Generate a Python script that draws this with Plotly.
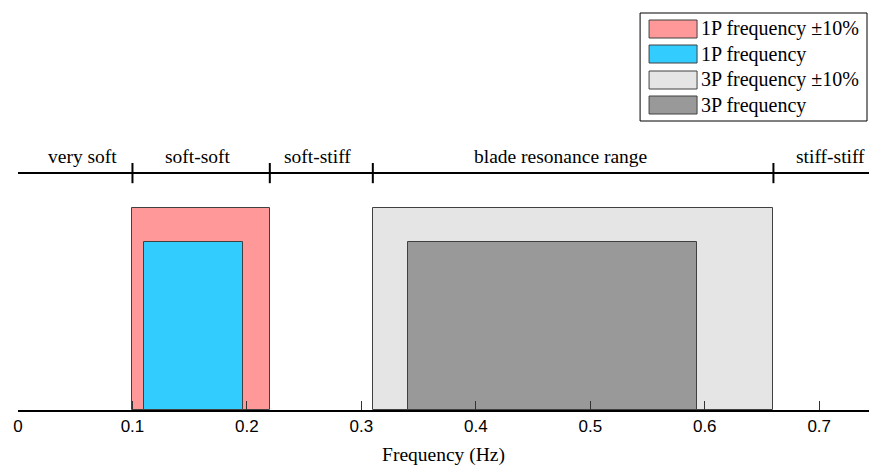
import plotly.graph_objects as go

# ---- data ----
band_names = ["1P frequency \u00b110%", "1P frequency", "3P frequency \u00b110%", "3P frequency"]
band_lo = [0.10, 0.11, 0.31, 0.341]
band_hi = [0.22, 0.197, 0.66, 0.593]
band_height = [1.0, 0.832, 1.0, 0.832]
band_colors = ["#FF9999", "#33CCFF", "#E5E5E5", "#999999"]

region_bounds = [0.10, 0.22, 0.31, 0.66]
region_labels = ["very soft", "soft-soft", "soft-stiff", "blade resonance range", "stiff-stiff"]
region_label_x = [0.056, 0.157, 0.262, 0.474, 0.71]

xtick_vals = [0, 0.1, 0.2, 0.3, 0.4, 0.5, 0.6, 0.7]
xtick_text = ["0", "0.1", "0.2", "0.3", "0.4", "0.5", "0.6", "0.7"]

X_MAX = 0.7435
Y_MAX = 2.03
LINE_Y = 1.173
TICK_HALF = 0.05
LABEL_Y = 1.256

SERIF = "Liberation Serif, Times New Roman, serif"
SANS = "Liberation Sans, Arial, sans-serif"

fig = go.Figure()

for name, lo, hi, h, c in zip(band_names, band_lo, band_hi, band_height, band_colors):
    fig.add_trace(go.Bar(
        x=[(lo + hi) / 2], y=[h], width=[hi - lo], base=0,
        name=name, marker=dict(color=c, line=dict(color="#404040", width=1)),
        showlegend=False, hoverinfo="name",
    ))

# classification line
fig.add_trace(go.Scatter(x=[0, X_MAX], y=[LINE_Y, LINE_Y], mode="lines",
                         line=dict(color="black", width=2), showlegend=False,
                         hoverinfo="skip", cliponaxis=False))
tx, ty = [], []
for b in region_bounds:
    tx += [b, b, None]
    ty += [LINE_Y - TICK_HALF, LINE_Y + TICK_HALF, None]
fig.add_trace(go.Scatter(x=tx, y=ty, mode="lines", line=dict(color="black", width=2),
                         showlegend=False, hoverinfo="skip", cliponaxis=False))

for lab, lx in zip(region_labels, region_label_x):
    fig.add_annotation(x=lx, y=LABEL_Y, xref="x", yref="y", text=lab, showarrow=False,
                       font=dict(family=SERIF, size=19.5, color="black"),
                       xanchor="center", yanchor="middle")

# manual legend (paper coords)
W, H = 869, 467
ML, MR, MT, MB = 17.7, 0, 0, 57
pw = W - ML - MR
ph = H - MT - MB


def px(xp):
    return (xp - ML) / pw


def py(yp):
    return (H - MB - yp) / ph


fig.add_shape(type="rect", xref="paper", yref="paper",
              x0=px(640), x1=px(867), y0=py(121), y1=py(13),
              line=dict(color="black", width=1), fillcolor="white", layer="above")
row_tops = [20, 45, 71, 96]
for name, c, rt in zip(band_names, band_colors, row_tops):
    fig.add_shape(type="rect", xref="paper", yref="paper",
                  x0=px(649), x1=px(697), y0=py(rt + 18), y1=py(rt),
                  line=dict(color="#404040", width=1), fillcolor=c, layer="above")
    fig.add_annotation(x=px(699), y=py(rt + 9), xref="paper", yref="paper", text=name,
                       showarrow=False, xanchor="left", yanchor="middle",
                       font=dict(family=SERIF, size=20, color="black"))

fig.update_layout(
    width=W, height=H,
    margin=dict(l=ML, r=MR, t=MT, b=MB, pad=0),
    plot_bgcolor="white", paper_bgcolor="white",
    barmode="overlay", bargap=0,
    xaxis=dict(range=[0, X_MAX], tickvals=xtick_vals, ticktext=xtick_text,
               ticks="inside", ticklen=9, tickwidth=1, tickcolor="#333",
               showline=True, linecolor="black", linewidth=1.5,
               showgrid=False, zeroline=False,
               tickfont=dict(family=SANS, size=17, color="black"),
               title=dict(text="Frequency (Hz)", font=dict(family=SERIF, size=19.5, color="black"),
                          standoff=12)),
    yaxis=dict(range=[0, Y_MAX], visible=False, showgrid=False, zeroline=False),
)

fig.write_html("out.html", config={"displayModeBar": False},
               post_script="document.body.style.margin='0';document.body.style.overflow='hidden';")
